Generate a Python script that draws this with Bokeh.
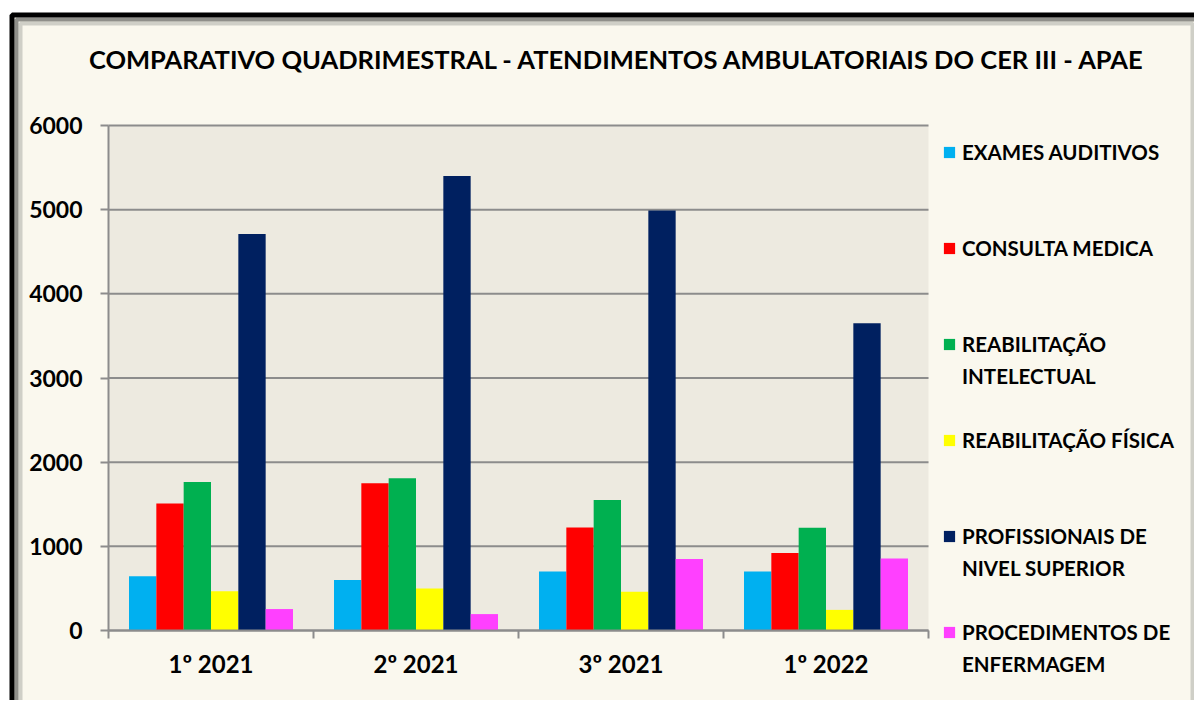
from bokeh.plotting import figure
from bokeh.models import (Range1d, FixedTicker, Legend, LegendItem, Label, BoxAnnotation,
                          ColumnDataSource)
from bokeh.transform import dodge
from bokeh.embed import file_html
from bokeh.resources import INLINE

categories = ["1º 2021", "2º 2021", "3º 2021", "1º 2022"]
series_names = ["EXAMES AUDITIVOS", "CONSULTA MEDICA", "REABILITAÇÃO\nINTELECTUAL",
                "REABILITAÇÃO FÍSICA", "PROFISSIONAIS DE\nNIVEL SUPERIOR",
                "PROCEDIMENTOS DE\nENFERMAGEM"]
exames_auditivos = [645, 600, 700, 700]
consulta_medica = [1510, 1750, 1225, 920]
reabilitacao_intelectual = [1765, 1810, 1550, 1220]
reabilitacao_fisica = [465, 500, 460, 245]
profissionais_nivel_superior = [4710, 5400, 4990, 3650]
procedimentos_enfermagem = [255, 195, 850, 855]
series_values = [exames_auditivos, consulta_medica, reabilitacao_intelectual,
                 reabilitacao_fisica, profissionais_nivel_superior, procedimentos_enfermagem]
colors = ["#00B0F0", "#FF0000", "#00B050", "#FFFF00", "#002060", "#FF40FF"]
y_ticks = [0, 1000, 2000, 3000, 4000, 5000, 6000]
y_max = 6000
title_text = "COMPARATIVO QUADRIMESTRAL - ATENDIMENTOS AMBULATORIAIS DO CER III - APAE"

FONT = "Lato"
GRID = "#8C8C8C"

# ---- layout geometry (page pixels) ----
W, H = 1194, 700            # canvas, placed at page (0, 0)
CX, CY = 0, 0
PLOT_L, PLOT_R, PLOT_T, PLOT_B = 108, 928, 125, 630   # plot area in page px
ncat = len(categories)
px_per_x = (PLOT_R - PLOT_L) / ncat
px_per_y = (PLOT_B - PLOT_T) / y_max


def dx(X):
    return (X - PLOT_L) / px_per_x


def dy(Y):
    return (PLOT_B - Y) / px_per_y


p = figure(width=W, height=H,
           x_range=Range1d(dx(CX), dx(CX + W)), y_range=Range1d(dy(CY + H), dy(CY)),
           output_backend="svg", toolbar_location=None,
           min_border_left=0, min_border_right=0, min_border_top=0, min_border_bottom=0,
           background_fill_color="white", border_fill_color="white", outline_line_color=None)


def box(**kw):
    kw.setdefault("fill_color", None)
    kw.setdefault("line_color", None)
    return BoxAnnotation(fill_alpha=1, line_alpha=1, level="underlay", **kw)


# chart area background, plot area, frame decorations
p.add_layout(box(left=dx(14), right=dx(1194), top=dy(17), bottom=dy(CY + H + 50),
                 fill_color="#FAF8EE"))
p.add_layout(box(left=0, right=ncat, bottom=0, top=y_max, fill_color="#EDEAE0"))
p.add_layout(box(left=dx(20), right=dx(1192), top=dy(23), bottom=dy(CY + H + 50),
                 line_color="#CFCFC7", line_width=4))
p.add_layout(box(left=dx(16), right=dx(1196), top=dy(19), bottom=dy(CY + H + 50),
                 line_color="#8F8F8A", line_width=4))
p.add_layout(box(left=dx(11.5), right=dx(1200), top=dy(14.5), bottom=dy(CY + H + 50),
                 line_color="black", line_width=5))

# horizontal gridlines across the plot area
p.segment(x0=[0] * len(y_ticks), x1=[ncat] * len(y_ticks), y0=y_ticks, y1=y_ticks,
          line_color=GRID, line_width=2)

centers = [i + 0.5 for i in range(ncat)]
data = {"x": centers}
for k, vals in enumerate(series_values):
    data[f"s{k}"] = vals
source = ColumnDataSource(data)

n = len(series_values)
group = 0.8
bw = group / n
renderers = []
for k in range(n):
    off = (k - (n - 1) / 2) * bw
    r = p.vbar(x=dodge("x", off), top=f"s{k}", width=bw, source=source,
               fill_color=colors[k], line_color=None)
    renderers.append(r)
blank = p.vbar(x=[], top=[], width=0.1, fill_alpha=0, line_alpha=0)

# axes, pinned to the plot area
p.xaxis.fixed_location = 0
p.xaxis.bounds = (0, ncat)
p.xaxis.ticker = FixedTicker(ticks=centers, minor_ticks=list(range(ncat + 1)))
p.xaxis.major_label_overrides = {c: cat for c, cat in zip(centers, categories)}
p.xaxis.major_tick_line_color = None
p.xaxis.minor_tick_out = 8
p.xaxis.minor_tick_in = 0
p.xaxis.minor_tick_line_color = GRID
p.xaxis.minor_tick_line_width = 2
p.xaxis.axis_line_color = GRID
p.xaxis.axis_line_width = 2
p.xaxis.major_label_standoff = 10
p.xaxis.major_label_text_font = FONT
p.xaxis.major_label_text_font_style = "bold"
p.xaxis.major_label_text_font_size = "24px"
p.xaxis.major_label_text_color = "black"

p.yaxis.fixed_location = 0
p.yaxis.bounds = (0, y_max)
p.yaxis.ticker = FixedTicker(ticks=y_ticks)
p.yaxis.major_tick_out = 8
p.yaxis.major_tick_in = 0
p.yaxis.major_tick_line_color = GRID
p.yaxis.major_tick_line_width = 2
p.yaxis.minor_tick_line_color = None
p.yaxis.axis_line_color = GRID
p.yaxis.axis_line_width = 2
p.yaxis.major_label_standoff = 18
p.yaxis.major_label_text_font = FONT
p.yaxis.major_label_text_font_style = "bold"
p.yaxis.major_label_text_font_size = "23px"
p.yaxis.major_label_text_color = "black"

p.xgrid.grid_line_color = None
p.ygrid.grid_line_color = None

# title
p.add_layout(Label(x=dx(617), y=dy(58), text=title_text, text_align="center", text_baseline="middle",
                   text_font=FONT, text_font_style="bold", text_font_size="25.5px", text_color="black"))

# legend: rows on an even pitch, each entry starts every third row (Excel-like spacing)
entry_rows = [0, 3, 6, 9, 12, 15]
n_rows = 17
rows = [("\u00a0", blank)] * n_rows
for k, r0 in enumerate(entry_rows):
    parts = series_names[k].split("\n")
    rows[r0] = (parts[0], renderers[k])
    for j, extra in enumerate(parts[1:], start=1):
        rows[r0 + j] = (extra, blank)
items = [LegendItem(label=lab, renderers=[rr]) for lab, rr in rows]
row_h, row_gap = 25, 7
legend_h = n_rows * row_h + (n_rows - 1) * row_gap
legend_top = 152 - row_h / 2
leg = Legend(items=items, location=(942 - CX, round((CY + H) - (legend_top + legend_h))),
             border_line_color=None, background_fill_alpha=0, padding=0, margin=0,
             spacing=row_gap, glyph_width=14, glyph_height=14, label_standoff=6, label_height=row_h,
             label_text_font=FONT, label_text_font_style="bold", label_text_font_size="20.5px",
             label_text_color="black")
p.add_layout(leg, "center")

open("out.html", "w").write(file_html(p, INLINE))
